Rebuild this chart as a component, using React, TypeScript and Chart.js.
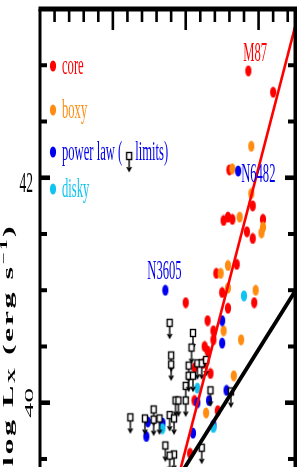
import React, { useEffect, useRef } from "react";
import { Chart, registerables } from "chart.js";

Chart.register(...registerables);

// ---- axis ranges & ticks ----
const X_MIN = 9.5;
const X_MAX = 11.25;
const Y_MIN = 39.313;
const Y_MAX = 43.5;
const X_MINOR_TICKS = [9.6, 9.7, 9.8, 9.9, 10.1, 10.2, 10.3, 10.4, 10.6, 10.7, 10.8, 10.9, 11.1, 11.2];
const X_MAJOR_TICKS = [10.0, 10.5, 11.0];
const Y_MINOR_TICKS = [39.5, 40.5, 41, 41.5, 42.5, 43];
const Y_MAJOR_TICKS = [40, 42];
const Y_TICK_LABELS = ["40", "42"];

// ---- data ----
const coreX = [10.93, 11.10, 10.76, 10.79, 10.82, 10.92, 10.96, 11.03, 10.96, 10.80, 10.71, 10.85, 10.75, 10.97, 10.79, 10.50, 10.65, 10.69, 10.69, 10.63, 10.65, 10.56, 10.62, 10.67, 10.56, 10.72, 10.53];
const coreY = [42.95, 42.76, 41.62, 41.65, 41.63, 41.52, 41.46, 41.63, 41.75, 42.07, 41.15, 41.23, 40.98, 40.89, 40.84, 40.89, 40.73, 40.64, 40.56, 40.50, 40.46, 40.31, 40.35, 40.26, 40.02, 39.93, 39.55];

const boxyX = [10.95, 10.82, 10.95, 10.87, 11.03, 11.02, 10.74, 10.79, 10.79, 10.98, 10.76, 10.88, 10.83, 10.64];
const boxyY = [42.28, 42.08, 41.86, 41.65, 41.56, 41.51, 41.15, 41.22, 41.02, 41.00, 40.64, 40.56, 40.24, 39.91];

const plawX = [10.86, 10.36, 10.75, 10.75, 10.78, 10.66, 10.58, 10.55, 10.34, 10.69, 10.24, 10.23];
const plawY = [42.06, 41.00, 40.73, 40.53, 40.11, 40.02, 40.00, 39.73, 39.82, 39.80, 39.83, 39.70];

const diskyX = [10.90, 10.58, 10.34, 10.69];
const diskyY = [40.95, 40.13, 39.77, 39.78];

const limitX = [10.39, 10.40, 10.40, 10.55, 10.54, 10.52, 10.58, 10.61, 10.64, 10.67, 10.81, 10.50, 10.50, 10.52, 10.43, 10.45, 10.39, 10.42, 10.28, 10.28, 10.36, 10.42, 10.39, 10.61, 10.55, 10.12, 10.22, 10.32];
const limitY = [40.71, 40.42, 40.34, 40.62, 40.49, 40.33, 40.35, 40.35, 40.38, 40.11, 40.10, 40.15, 40.02, 40.24, 40.02, 40.02, 39.89, 39.86, 39.94, 39.85, 39.62, 39.54, 39.53, 39.60, 40.24, 39.87, 39.86, 39.86];

const redLineX = [10.42, 11.25];
const redLineY = [39.19, 43.34];
const blackLineX = [10.40, 11.25];
const blackLineY = [39.23, 40.99];

const LEGEND_LABELS = ["core", "boxy", "power law (", "disky"];
const LIMIT_LABEL = "limits)";
const ANNOTATIONS = [
  { text: "M87", series: "core", index: 0 },
  { text: "N6482", series: "plaw", index: 0 },
  { text: "N3605", series: "plaw", index: 1 },
];

const RED = "#ff0000";
const ORANGE = "#ff8c10";
const BLUE = "#0000f0";
const CYAN = "#10c4f0";
const SX = 0.45;
const SERIF = "'Liberation Serif', 'Times New Roman', serif";

function zip(xs: number[], ys: number[]) {
  return xs.map((x, i) => ({ x, y: ys[i] }));
}

function makeDot(color: string) {
  const c = document.createElement("canvas");
  c.width = 8;
  c.height = 12;
  const g = c.getContext("2d")!;
  g.fillStyle = color;
  g.beginPath();
  g.ellipse(4, 6, 3.1, 5.5, 0, 0, Math.PI * 2);
  g.fill();
  return c;
}

function makeLimit() {
  const c = document.createElement("canvas");
  c.width = 10;
  c.height = 36;
  const g = c.getContext("2d")!;
  g.strokeStyle = "#000";
  g.fillStyle = "#fff";
  g.lineWidth = 1.4;
  g.fillRect(2.5, 14.5, 5, 7);
  g.strokeRect(2.5, 14.5, 5, 7);
  g.beginPath();
  g.moveTo(5, 21.5);
  g.lineTo(5, 33);
  g.moveTo(2.8, 29);
  g.lineTo(5, 33);
  g.lineTo(7.2, 29);
  g.stroke();
  return c;
}

function sText(ctx: CanvasRenderingContext2D, text: string, x: number, y: number, font: string, color: string, align: CanvasTextAlign = "left") {
  ctx.save();
  ctx.translate(x, y);
  ctx.scale(SX, 1);
  ctx.font = font;
  ctx.fillStyle = color;
  ctx.textAlign = align;
  ctx.textBaseline = "alphabetic";
  ctx.fillText(text, 0, 0);
  ctx.restore();
}

export default function App() {
  const ref = useRef<HTMLCanvasElement | null>(null);

  useEffect(() => {
    if (!ref.current) return;
    const dots = { core: makeDot(RED), boxy: makeDot(ORANGE), plaw: makeDot(BLUE), disky: makeDot(CYAN) };
    const limitImg = makeLimit();
    const seriesData: Record<string, { x: number[]; y: number[]; color: string }> = {
      core: { x: coreX, y: coreY, color: RED },
      plaw: { x: plawX, y: plawY, color: BLUE },
    };

    const framePlugin = {
      id: "frame",
      afterDatasetsDraw(chart: any) {
        const { ctx, chartArea: a, scales } = chart;
        const xs = scales.x;
        const ys = scales.y;
        ctx.save();
        ctx.fillStyle = "#000";
        // frame
        ctx.fillRect(a.left - 1.5, a.top - 2.5, a.right - a.left + 3.5, 5);
        ctx.fillRect(a.left - 1.5, a.top, 3, a.bottom - a.top);
        ctx.fillRect(a.right - 1.5, a.top, 3.5, a.bottom - a.top);
        // top ticks
        for (const v of X_MINOR_TICKS) {
          const px = xs.getPixelForValue(v);
          ctx.fillRect(px - 1.3, a.top, 2.6, 13);
        }
        for (const v of X_MAJOR_TICKS) {
          const px = xs.getPixelForValue(v);
          ctx.fillRect(px - 1.3, a.top, 2.6, 21);
        }
        // left/right ticks
        for (const v of Y_MINOR_TICKS) {
          const py = ys.getPixelForValue(v);
          ctx.fillRect(a.left, py - 2, 7, 4);
          ctx.fillRect(a.right - 7, py - 2, 7, 4);
        }
        for (const v of Y_MAJOR_TICKS) {
          const py = ys.getPixelForValue(v);
          ctx.fillRect(a.left, py - 2.3, 10, 4.6);
          ctx.fillRect(a.right - 10, py - 2.3, 10, 4.6);
        }
        ctx.restore();

        // tick labels: "42" upright, "40" rotated
        const numFont = `30px ${SERIF}`;
        const y42 = ys.getPixelForValue(Y_MAJOR_TICKS[1]);
        sText(ctx, Y_TICK_LABELS[1], 33, y42 + 14, numFont, "#000", "right");
        const y40 = ys.getPixelForValue(Y_MAJOR_TICKS[0]);
        ctx.save();
        ctx.translate(33, y40);
        ctx.scale(SX, 1);
        ctx.rotate(-Math.PI / 2);
        ctx.font = numFont;
        ctx.fillStyle = "#000";
        ctx.textAlign = "center";
        ctx.textBaseline = "alphabetic";
        ctx.fillText(Y_TICK_LABELS[0], 0, 0);
        ctx.restore();

        // axis title
        ctx.save();
        ctx.translate(12.5, 466);
        ctx.scale(SX, 1);
        ctx.rotate(-Math.PI / 2);
        ctx.fillStyle = "#000";
        ctx.textBaseline = "alphabetic";
        ctx.textAlign = "left";
        (ctx as any).letterSpacing = "2.5px";
        let cx = 0;
        const big = `bold 32px ${SERIF}`;
        const small = `bold 21px ${SERIF}`;
        const seg = (t: string, font: string, dy: number) => {
          ctx.font = font;
          ctx.fillText(t, cx, dy);
          cx += ctx.measureText(t).width;
        };
        seg("log L", big, 0);
        seg("X", small, 6);
        seg(" (erg s", big, 0);
        seg("\u22121", small, -13);
        seg(")", big, 0);
        ctx.restore();

        // legend
        const legFont = `28px ${SERIF}`;
        const legColors = [RED, ORANGE, BLUE, CYAN];
        const legImgs = [dots.core, dots.boxy, dots.plaw, dots.disky];
        const legY = [66, 110, 152, 189];
        LEGEND_LABELS.forEach((lab, i) => {
          ctx.drawImage(legImgs[i], 53 - 4, legY[i] - 6);
          sText(ctx, lab, 62, legY[i] + 8, legFont, legColors[i]);
        });
        ctx.save();
        ctx.font = legFont;
        const w1 = ctx.measureText(LEGEND_LABELS[2]).width * SX;
        ctx.restore();
        ctx.drawImage(limitImg, 62 + w1 + 2, legY[2] - 14);
        sText(ctx, LIMIT_LABEL, 62 + w1 + 13, legY[2] + 8, legFont, BLUE);

        // annotations
        const annFont = `28px ${SERIF}`;
        const offs: Record<string, [number, number]> = { M87: [-5, -10], N6482: [3, 11], N3605: [-18, -11] };
        ANNOTATIONS.forEach((an) => {
          const s = seriesData[an.series];
          const px = xs.getPixelForValue(s.x[an.index]);
          const py = ys.getPixelForValue(s.y[an.index]);
          const [dx, dy] = offs[an.text];
          sText(ctx, an.text, px + dx, py + dy, annFont, s.color);
        });
      },
    };

    const chart = new Chart(ref.current, {
      type: "scatter",
      data: {
        datasets: [
          { data: zip(redLineX, redLineY), showLine: true, borderColor: RED, borderWidth: 2.6, pointRadius: 0, pointHoverRadius: 0 } as any,
          { data: zip(blackLineX, blackLineY), showLine: true, borderColor: "#000", borderWidth: 3.8, pointRadius: 0, pointHoverRadius: 0 } as any,
          { data: zip(limitX, limitY), pointStyle: limitImg, pointRadius: 3 } as any,
          { data: zip(diskyX, diskyY), pointStyle: dots.disky, pointRadius: 3 } as any,
          { data: zip(plawX, plawY), pointStyle: dots.plaw, pointRadius: 3 } as any,
          { data: zip(boxyX, boxyY), pointStyle: dots.boxy, pointRadius: 3 } as any,
          { data: zip(coreX, coreY), pointStyle: dots.core, pointRadius: 3 } as any,
        ],
      },
      options: {
        animation: false,
        responsive: false,
        devicePixelRatio: 1,
        layout: { padding: { left: 40, right: 7, top: 9, bottom: 20 } },
        plugins: { legend: { display: false }, tooltip: { enabled: false } },
        scales: {
          x: { type: "linear", min: X_MIN, max: X_MAX, display: false },
          y: { type: "linear", min: Y_MIN, max: Y_MAX, display: false },
        },
      },
      plugins: [framePlugin],
    });
    return () => chart.destroy();
  }, []);

  return (
    <div style={{ position: "absolute", left: 0, top: 0, width: 302, height: 467, overflow: "hidden", background: "#fff" }}>
      <canvas ref={ref} width={302} height={500} style={{ width: 302, height: 500, display: "block" }} />
    </div>
  );
}
